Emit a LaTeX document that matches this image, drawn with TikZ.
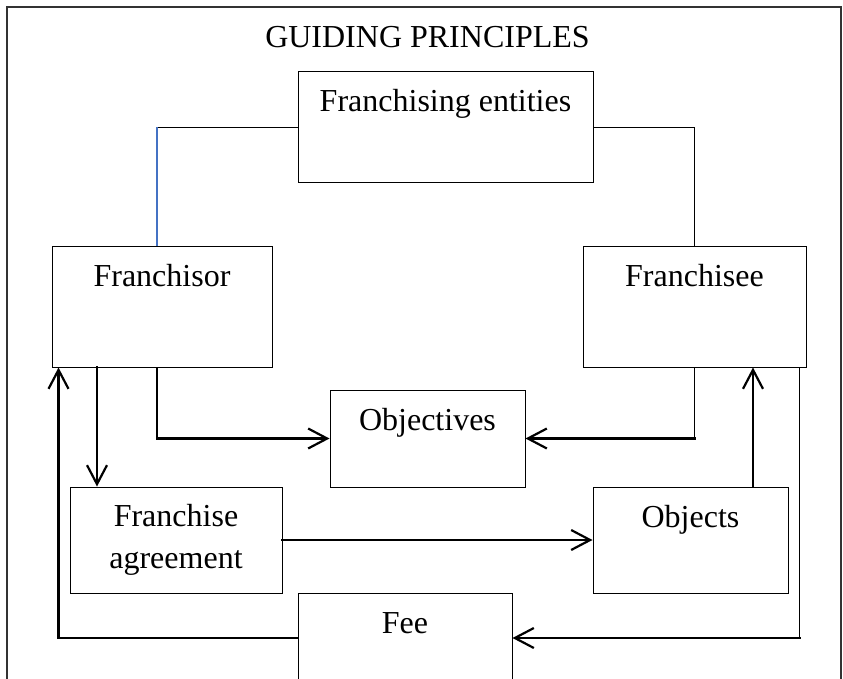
\documentclass[tikz,border=0pt]{standalone}
\usepackage{fontspec}
\setmainfont{Liberation Serif}
\usetikzlibrary{arrows.meta, positioning}
\definecolor{linkblue}{RGB}{68,114,196}
\tikzstyle{box} = [rectangle, draw=black, line width=1pt, inner sep=0pt, align=center, font=\fontsize{32}{42}\selectfont]
\tikzstyle{toptext} = [inner ysep=18pt, text height=22pt]
\tikzstyle{link} = [line width=1.2pt]
\tikzstyle{arrow} = [line width=2.2pt, line cap=rect, -{Straight Barb[length=19pt, width=20pt]}]

\begin{document}
\begin{tikzpicture}[x=1pt, y=-1pt]
    \useasboundingbox (0,0) rectangle (843,679);
    \draw [line width=1.5pt, black!80] (7,690) -- (7,7) -- (841,7) -- (841,690);
    \node (title) [anchor=base, font=\fontsize{32}{42}\selectfont] at (427.5,48) {GUIDING PRINCIPLES};

    \node (entities) [box, toptext, minimum width=295pt, text depth=53pt] at (445.5,127.5) {Franchising entities};
    \node (franchisor) [box, toptext, minimum width=220pt, text depth=63pt] at (162,306.5) {Franchisor};
    \node (franchisee) [box, toptext, minimum width=223pt, text depth=63pt] at (694.5,306.5) {Franchisee};
    \node (objectives) [box, toptext, minimum width=195pt, text depth=39pt] at (427.5,438.5) {Objectives};
    \node (agreement) [box, minimum width=212pt, minimum height=106pt] at (176,540) {Franchise\\agreement};
    \node (objects) [box, toptext, minimum width=195pt, text depth=48pt] at (690.5,540) {Objects};
    \node (fee) [box, toptext, minimum width=214pt, text depth=32pt] at (405,638) {Fee};

    % links from the entities box
    \coordinate (bend) at ([xshift=-5pt]franchisor.north |- entities.west);
    \draw [link] (entities.west) -- (bend);
    \draw [link, linkblue] (bend) -- ([xshift=-5pt]franchisor.north);
    \draw [link] (entities.east) -| (franchisee.north);

    % corners of the bent arrows
    \coordinate (orleft) at ([xshift=-5pt]franchisor.south |- objectives.west);
    \coordinate (eeright) at (franchisee.south |- objectives.east);
    \coordinate (feeright) at ([xshift=-7pt]franchisee.south east |- fee.east);
    \coordinate (feeleft) at ([xshift=7pt]franchisor.south west |- fee.west);

    % arrows
    \draw [link] ([xshift=-5pt]franchisor.south) -- (orleft);
    \draw [arrow] (orleft) -- (objectives.west);
    \draw [link] (franchisee.south) -- (eeright);
    \draw [arrow] (eeright) -- (objectives.east);
    \draw [arrow] ([xshift=-65pt]franchisor.south) -- ([xshift=-65pt]franchisor.south |- agreement.north);
    \draw [arrow] (agreement.east) -- (objects.west);
    \draw [arrow] ([xshift=62.5pt]objects.north) -- ([xshift=62.5pt]objects.north |- franchisee.south);
    \draw [link] ([xshift=-7pt]franchisee.south east) -- (feeright);
    \draw [arrow] (feeright) -- (fee.east);
    \draw [link] (fee.west) -- (feeleft);
    \draw [arrow] (feeleft) -- ([xshift=7pt]franchisor.south west);
\end{tikzpicture}
\end{document}
